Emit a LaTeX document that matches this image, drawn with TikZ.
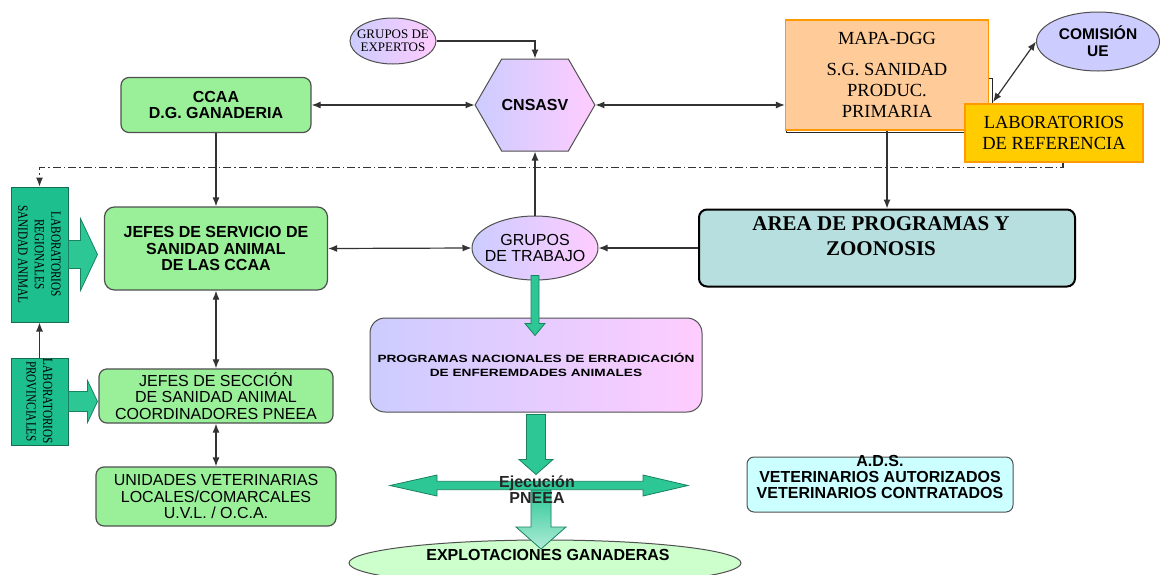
\documentclass[tikz,border=0pt]{standalone}
\usepackage{fontspec}
\setmainfont{Liberation Serif}
\setsansfont{Liberation Sans}
\newfontfamily\widesans[FakeStretch=1.3]{Liberation Sans}
\newfontfamily\narrowserif[FakeStretch=0.8]{Liberation Serif}
\usetikzlibrary{shapes.geometric,shapes.symbols,arrows.meta,calc}

\definecolor{boxgreen}{RGB}{153,240,153}
\definecolor{labteal}{RGB}{29,191,143}
\definecolor{labedge}{RGB}{20,110,80}
\definecolor{fatgreen}{RGB}{45,199,150}
\definecolor{fatedge}{RGB}{25,130,95}
\definecolor{fatlight}{RGB}{175,236,215}
\definecolor{lav}{RGB}{204,204,255}
\definecolor{pinky}{RGB}{255,204,255}
\definecolor{peach}{RGB}{255,204,153}
\definecolor{orangeedge}{RGB}{255,153,0}
\definecolor{gold}{RGB}{255,204,0}
\definecolor{areateal}{RGB}{183,223,224}
\definecolor{adscyan}{RGB}{204,255,255}
\definecolor{explgreen}{RGB}{204,255,204}
\definecolor{edgegray}{RGB}{80,80,80}

\begin{document}
\begin{tikzpicture}[x=1pt,y=-1pt]
\clip (0,0) rectangle (1163,574);
\tikzstyle{con}=[draw=black!80,line width=1.2pt,-{Latex[length=9pt,width=7pt]}]
\tikzstyle{con2}=[con,{Latex[length=9pt,width=7pt]}-{Latex[length=9pt,width=7pt]}]
\tikzstyle{dashline}=[dash pattern=on 8pt off 3pt on 1.5pt off 3pt]
\tikzstyle{greenbox}=[rectangle,rounded corners=8pt,draw=edgegray,line width=1.2pt,fill=boxgreen,align=center,font=\sffamily\fontsize{16}{16.7}\selectfont]
\tikzstyle{greenbold}=[greenbox,font=\sffamily\bfseries\fontsize{16}{16.7}\selectfont]
\tikzstyle{grad}=[draw=edgegray,line width=1pt,left color=lav,right color=pinky]
\tikzstyle{labbox}=[rectangle,draw=labedge,line width=1pt,fill=labteal]
\tikzstyle{labtext}=[rotate=-90,align=center,font=\narrowserif\fontsize{14}{16.5}\selectfont]
\tikzstyle{fat}=[fill=fatgreen,draw=fatedge,line width=0.8pt]

  \draw[black!85,fill=white,line width=1pt] (786,78) rectangle (992,132);
  \draw[black!85,fill=white,line width=1pt] (992,103) rectangle (1127,140);

  \node[grad,ellipse,minimum width=86pt,minimum height=46pt,inner sep=0pt,
    label={[align=center,font=\fontsize{13}{13.3}\selectfont]center:GRUPOS DE\\EXPERTOS}] (expertos) at (393,41) {};
  \node[grad,signal,signal to=east and west,signal pointer angle=120,minimum width=112pt,minimum height=92pt,
    inner sep=0pt,font=\sffamily\bfseries\fontsize{16}{16.7}\selectfont] (cnsasv) at (535,105) {CNSASV};
  \node[greenbold,minimum width=190pt,minimum height=55pt] (ccaa) at (216,105) {CCAA\\D.G. GANADERIA};
  \node[greenbold,rounded corners=10pt,minimum width=223pt,minimum height=83pt] (jefes-serv) at (216,248.5) {JEFES DE SERVICIO DE\\SANIDAD ANIMAL\\DE LAS CCAA};
  \node[greenbox,minimum width=234pt,minimum height=52pt] (seccion) at (216,396) {JEFES DE SECCIÓN\\DE SANIDAD ANIMAL\\COORDINADORES PNEEA};
  \node[greenbox,minimum width=240pt,minimum height=59pt] (unidades) at (216,496.5) {UNIDADES VETERINARIAS\\LOCALES/COMARCALES\\U.V.L. / O.C.A.};
  \node[grad,ellipse,minimum width=126pt,minimum height=64pt,inner sep=0pt,
    label={[align=center,font=\sffamily\fontsize{16}{16.7}\selectfont]center:GRUPOS\\DE TRABAJO}] (trabajo) at (535,248) {};
  \node[rectangle,fill=peach,draw=orangeedge,line width=1.2pt,minimum width=203pt,minimum height=110pt,
    align=center,font=\fontsize{18.5}{21}\selectfont] (mapa) at (887,75) {MAPA-DGG\\[10pt]S.G. SANIDAD\\PRODUC.\\PRIMARIA};
  \node[ellipse,fill=lav,draw=edgegray,line width=1pt,minimum width=123pt,minimum height=59pt,inner sep=0pt,
    label={[align=center,font=\sffamily\bfseries\fontsize{15.5}{16.7}\selectfont]center:COMISIÓN\\UE}] (comision) at (1098,41.5) {};
  \node[rectangle,fill=gold,draw=orangeedge,line width=1.2pt,minimum width=178pt,minimum height=58pt,
    align=center,font=\fontsize{18.5}{20.7}\selectfont] (labref) at (1054,133) {LABORATORIOS\\DE REFERENCIA};
  \node[rectangle,rounded corners=8pt,fill=areateal,draw=black,line width=2pt,minimum width=376pt,minimum height=77pt,
    label={[align=center,font=\bfseries\fontsize{21}{25.3}\selectfont,yshift=12pt,xshift=-6pt]center:AREA DE PROGRAMAS Y\\ZOONOSIS}] (area) at (887,248) {};
  \node[grad,rectangle,rounded corners=15pt,minimum width=332pt,minimum height=94pt,align=center,
    font=\widesans\bfseries\fontsize{10.5}{13.3}\selectfont] (programas) at (536,365) {PROGRAMAS NACIONALES DE ERRADICACIÓN\\DE ENFEREMDADES ANIMALES};
  \node[rectangle,rounded corners=7pt,fill=adscyan,draw=edgegray,line width=1pt,minimum width=266pt,minimum height=55pt,
    label={[align=center,font=\sffamily\bfseries\fontsize{16}{16}\selectfont,yshift=7.5pt]center:A.D.S.\\VETERINARIOS AUTORIZADOS\\VETERINARIOS CONTRATADOS}] (ads) at (880,484.5) {};
  \node[ellipse,fill=explgreen,draw=edgegray,line width=1pt,minimum width=392pt,minimum height=46pt,
    label={[font=\sffamily\bfseries\fontsize{16}{16}\selectfont,yshift=8pt,xshift=3pt]center:EXPLOTACIONES GANADERAS}] (explot) at (545,563) {};
  \node[labbox,minimum width=57pt,minimum height=135pt,
    label={[labtext]center:LABORATORIOS\\REGIONALES\\SANIDAD ANIMAL}] (lab-reg) at (39.5,254.5) {};
  \node[labbox,minimum width=57pt,minimum height=87pt,
    label={[labtext]center:LABORATORIOS\\PROVINCIALES}] (lab-prov) at (39.5,401.5) {};

  \draw[con] (expertos.east) -| (cnsasv.north);
  \draw[con2] (ccaa.east) -- (cnsasv.west);
  \draw[con2] (cnsasv.east) -- (cnsasv.east -| mapa.west);
  \draw[con] (ccaa.south) -- (jefes-serv.north);
  \draw[con2] (jefes-serv.east) -- (trabajo.west);
  \draw[con] (trabajo.north) -- (cnsasv.south);
  \draw[con] (mapa.south) -- (area.north);
  \draw[con] (area.west) -- (trabajo.east);
  \draw[con2] (jefes-serv.south) -- (seccion.north);
  \draw[con2] (seccion.south) -- (unidades.north);
  \draw[con] (lab-prov.north) -- (lab-reg.south);
  \coordinate (ref-corner) at (993,102);
  \draw[con2] (comision.west) -- (ref-corner);
  \draw[con,dashline] ([xshift=9pt]labref.south) -- ++(0,5) -| (lab-reg.north);

  \filldraw[fat] (lab-reg.east) ++(0,-14) -- ++(12,0) -- ++(0,-22) -- ++(17,36) -- ++(-17,36) -- ++(0,-22) -- ++(-12,0) -- cycle;
  \filldraw[fat] (lab-prov.east) ++(0,-10) -- ++(19,0) -- ++(0,-11) -- ++(10,21) -- ++(-10,21) -- ++(0,-11) -- ++(-19,0) -- cycle;
  \filldraw[fat] ([yshift=5pt]trabajo.south) ++(-4,0) -- ++(0,48) -- ++(-6,0) -- ++(10,12) -- ++(10,-12) -- ++(-6,0) -- ++(0,-48) -- cycle;
  \filldraw[fat] (programas.south) ++(-9.5,2) -- ++(0,45) -- ++(-7.5,0) -- ++(17,15) -- ++(17,-15) -- ++(-7.5,0) -- ++(0,-45) -- cycle;
  \coordinate (ejec-w) at (390,485.5);
  \coordinate (ejec-e) at (688,485.5);
  \filldraw[fat,top color=fatgreen,bottom color=fatlight] (531,490) -- (531,527) -- (516,527) -- (541,549) -- (566,527) -- (551,527) -- (551,490) -- cycle;
  \filldraw[fat] (ejec-w) -- ++(47,-10.5) -- ++(0,6.3) -- ++(206,0) -- ++(0,-6.3) -- (ejec-e) -- ++(-45,10.5) -- ++(0,-6.3) -- ++(-206,0) -- ++(0,6.3) -- cycle;
  \node[font=\sffamily\bfseries\fontsize{16}{16}\selectfont,align=center,text=black!85] (ejec) at (537,489.5) {Ejecución\\PNEEA};

\end{tikzpicture}
\end{document}
